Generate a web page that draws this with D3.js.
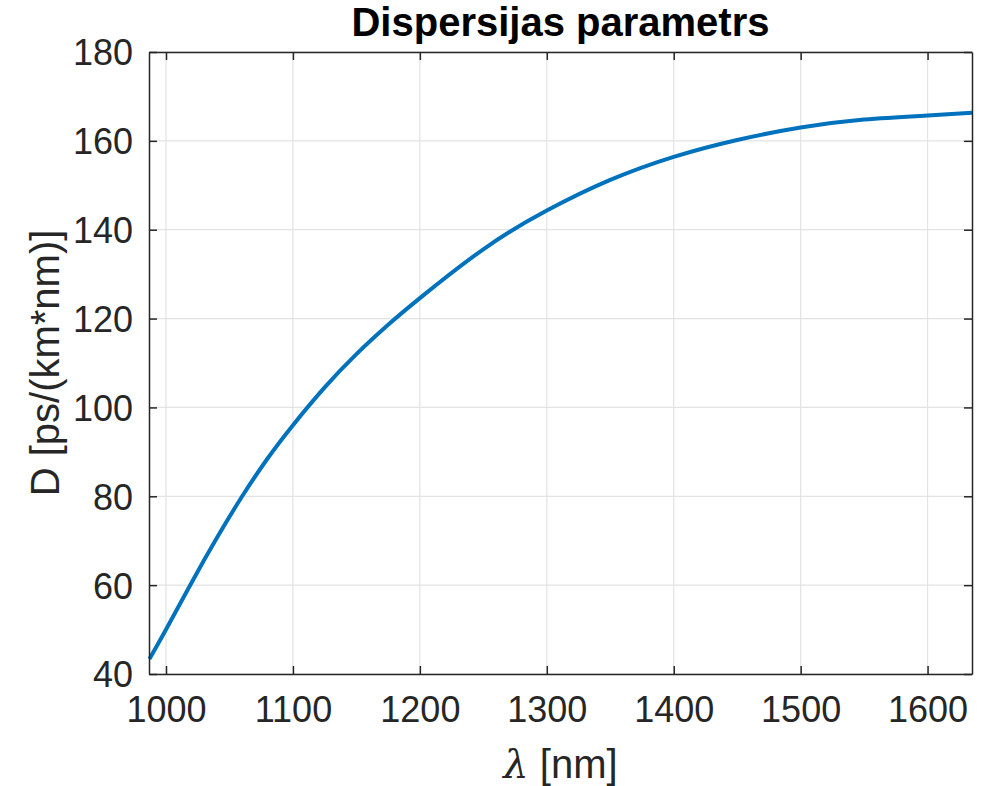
<!DOCTYPE html>
<html>
<head>
<meta charset="utf-8">
<script src="https://cdn.jsdelivr.net/npm/d3@7"></script>
<style>
  body { margin: 0; background: #fff; }
  text { font-family: "Liberation Sans", Arial, sans-serif; }
</style>
</head>
<body>
<div id="chart"></div>
<script>
// wavelength samples [nm] and dispersion values
var lambda = [987, 1000, 1020, 1040, 1060, 1080, 1100, 1125, 1150, 1175, 1200,
              1250, 1300, 1350, 1400, 1450, 1500, 1550, 1600, 1635];
var dispersion = [43.4, 50.0, 60.5, 70.6, 80.0, 88.5, 96.0, 104.5, 112.0, 118.6, 124.6,
                  135.6, 144.3, 151.2, 156.4, 160.2, 163.0, 164.8, 165.7, 166.3];
var xTicks = [1000, 1100, 1200, 1300, 1400, 1500, 1600];
var yTicks = [40, 60, 80, 100, 120, 140, 160, 180];

var svgWidth = 994;
var svgHeight = 786;
var margin = { top: 52, right: 22, bottom: 112, left: 149 };
var width = svgWidth - margin.left - margin.right;
var height = svgHeight - margin.top - margin.bottom;

var data = lambda.map(function(l, i) { return { l: l, d: dispersion[i] }; });

var svg = d3.select("#chart").append("svg")
  .attr("width", svgWidth)
  .attr("height", svgHeight);

var chartGroup = svg.append("g")
  .attr("transform", `translate(${margin.left}, ${margin.top})`);

var x = d3.scaleLinear().domain([986.6, 1635]).range([0, width]);
var y = d3.scaleLinear().domain([40, 180]).range([height, 0]);

var axisColor = "#262626";
var tickLen = 8;

// grid lines
chartGroup.append("g").selectAll("line")
  .data(xTicks).enter().append("line")
  .attr("x1", d => x(d)).attr("x2", d => x(d))
  .attr("y1", 0).attr("y2", height)
  .attr("stroke", "#e3e3e3").attr("stroke-width", 1.2);

chartGroup.append("g").selectAll("line")
  .data(yTicks).enter().append("line")
  .attr("x1", 0).attr("x2", width)
  .attr("y1", d => y(d)).attr("y2", d => y(d))
  .attr("stroke", "#e3e3e3").attr("stroke-width", 1.2);

// curve
var line = d3.line()
  .x(d => x(d.l))
  .y(d => y(d.d))
  .curve(d3.curveNatural);

chartGroup.append("path")
  .datum(data)
  .attr("fill", "none")
  .attr("stroke", "#0072BD")
  .attr("stroke-width", 4)
  .attr("d", line);

// axes (ticks inward, box on)
function styleAxis(g) {
  g.select(".domain").attr("stroke", axisColor).attr("stroke-width", 1.5);
  g.selectAll(".tick line").attr("stroke", axisColor).attr("stroke-width", 1.5);
  g.selectAll(".tick text")
    .attr("fill", axisColor)
    .attr("font-size", "36px")
    .attr("font-family", "'Liberation Sans', Arial, sans-serif");
}

var fmt = d3.format("d");
var bottomAxis = d3.axisBottom(x).tickValues(xTicks).tickFormat(fmt).tickSizeInner(-tickLen).tickSizeOuter(0).tickPadding(22);
var leftAxis = d3.axisLeft(y).tickValues(yTicks).tickFormat(fmt).tickSizeInner(-tickLen).tickSizeOuter(0).tickPadding(22);
var topAxis = d3.axisTop(x).tickValues(xTicks).tickSizeInner(-tickLen).tickSizeOuter(0).tickFormat("");
var rightAxis = d3.axisRight(y).tickValues(yTicks).tickSizeInner(-tickLen).tickSizeOuter(0).tickFormat("");

chartGroup.append("g")
  .attr("transform", `translate(0, ${height})`)
  .call(bottomAxis)
  .call(styleAxis)
  .selectAll(".tick text").attr("dy", "0.72em");

chartGroup.append("g")
  .call(leftAxis)
  .call(styleAxis)
  .selectAll(".tick text").attr("dy", "0.36em").attr("x", -16);

chartGroup.append("g")
  .call(topAxis)
  .call(styleAxis);

chartGroup.append("g")
  .attr("transform", `translate(${width}, 0)`)
  .call(rightAxis)
  .call(styleAxis);

// title
chartGroup.append("text")
  .attr("x", width / 2)
  .attr("y", -16)
  .attr("text-anchor", "middle")
  .attr("font-size", "40px")
  .attr("font-weight", "bold")
  .attr("fill", "#000")
  .text("Dispersijas parametrs");

// x label
var xLabel = chartGroup.append("text")
  .attr("x", width / 2)
  .attr("y", height + 104)
  .attr("text-anchor", "middle")
  .attr("font-size", "40px")
  .attr("fill", axisColor);
xLabel.append("tspan").attr("font-style", "italic").attr("font-family", "'DejaVu Serif', serif").text("λ");
xLabel.append("tspan").text(" [nm]");

// y label
chartGroup.append("text")
  .attr("transform", "rotate(-90)")
  .attr("x", -height / 2)
  .attr("y", -90)
  .attr("text-anchor", "middle")
  .attr("font-size", "40px")
  .attr("fill", axisColor)
  .text("D [ps/(km*nm)]");
</script>
</body>
</html>
